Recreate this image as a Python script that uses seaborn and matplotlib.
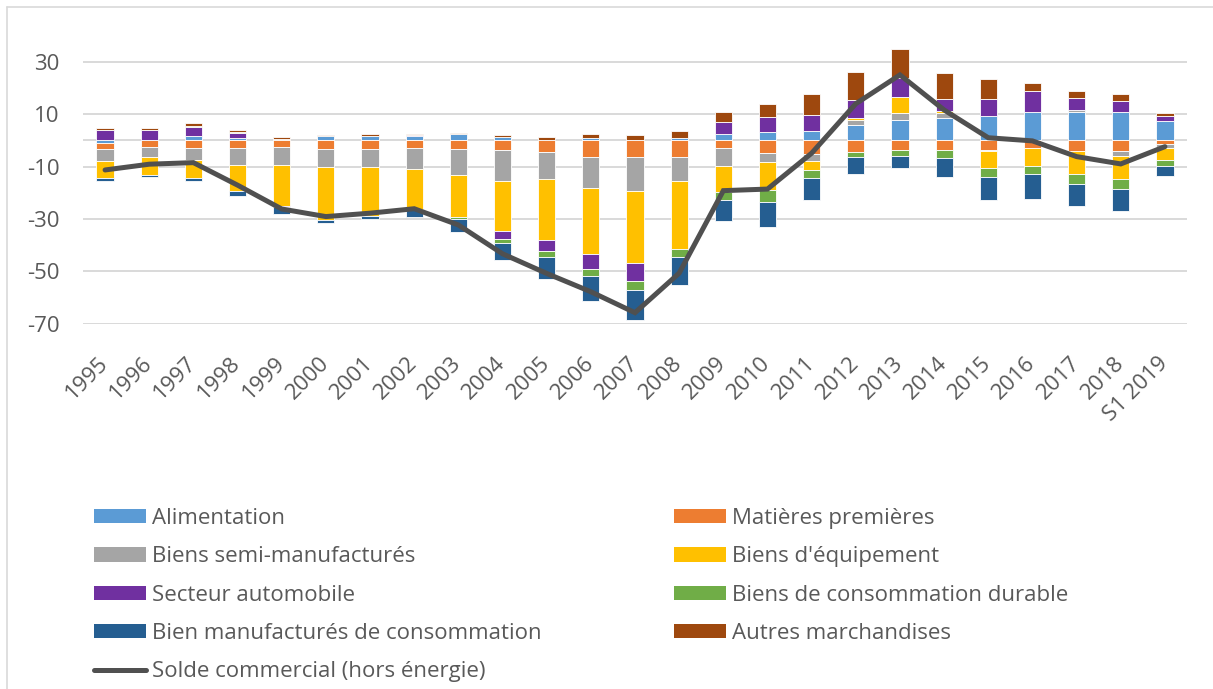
import numpy as np
import matplotlib
matplotlib.use("Agg")
import matplotlib.pyplot as plt
from matplotlib.patches import Patch
from matplotlib.lines import Line2D
import seaborn as sns

years = ["1995", "1996", "1997", "1998", "1999", "2000", "2001", "2002", "2003",
         "2004", "2005", "2006", "2007", "2008", "2009", "2010", "2011", "2012",
         "2013", "2014", "2015", "2016", "2017", "2018", "S1 2019"]

alimentation = [-0.9, 0.3, 1.8, 1.0, 0.5, 1.5, 1.5, 1.8, 2.5, 1.4, 0.3, 0.8, 0.0,
                0.8, 2.4, 3.1, 3.6, 5.9, 7.9, 8.7, 9.3, 10.9, 10.9, 10.7, 7.5]
matieres = [-2.4, -2.4, -2.9, -2.9, -2.4, -3.2, -3.2, -2.9, -3.2, -3.8, -4.3, -6.4, -6.5,
            -6.4, -3.1, -5.0, -5.3, -4.3, -3.6, -3.7, -3.7, -3.0, -4.1, -4.1, -1.4]
semi_manuf = [-4.7, -3.8, -4.5, -6.6, -7.1, -7.0, -7.1, -7.9, -9.9, -11.6, -10.4, -11.7, -12.8,
              -9.3, -6.5, -3.4, -2.7, 1.7, 2.5, 1.7, -0.5, 0.0, 0.6, -1.8, -1.7]
equipement = [-6.4, -6.9, -6.9, -9.9, -15.4, -20.1, -18.4, -15.3, -16.0, -19.3, -23.5, -25.2, -27.4,
              -25.7, -10.2, -10.6, -3.3, 0.8, 6.1, 1.0, -6.5, -6.6, -8.8, -8.8, -4.5]
automobile = [3.8, 3.8, 3.4, 1.8, -0.6, 0.0, 0.2, 0.4, 0.0, -2.8, -4.2, -5.9, -6.9,
              0.0, 4.8, 5.7, 6.2, 6.9, 7.4, 4.5, 6.5, 8.0, 4.8, 4.3, 1.8]
durable = [0.0, 0.0, 0.4, 0.3, 0.0, 0.0, 0.0, -0.3, -0.9, -1.8, -2.3, -2.5, -3.6,
           -3.1, -3.1, -4.5, -2.9, -2.0, -2.3, -2.9, -3.2, -3.3, -3.7, -3.8, -2.2]
manuf_conso = [-1.3, -1.0, -1.1, -1.9, -2.5, -1.3, -1.5, -3.0, -5.0, -6.2, -8.4, -9.8, -11.3,
               -10.9, -7.9, -9.5, -8.5, -6.6, -4.7, -7.3, -8.9, -9.4, -8.4, -8.3, -3.8]
autres = [0.9, 0.6, 0.9, 1.0, 0.8, 0.5, 0.6, 0.4, 0.5, 0.5, 0.9, 1.7, 2.2,
          2.9, 3.8, 5.2, 7.8, 10.8, 10.9, 9.8, 7.6, 3.1, 2.5, 2.7, 1.3]
solde = [-11.3, -9.1, -8.5, -17.1, -26.2, -29.1, -27.8, -26.1, -32.3, -43.3, -50.8, -57.8, -65.8,
         -50.7, -19.2, -18.6, -4.9, 14.0, 25.0, 11.6, 1.0, -0.2, -6.2, -9.0, -2.4]

series_names = ["Alimentation", "Matières premières", "Biens semi-manufacturés",
                "Biens d'équipement", "Secteur automobile", "Biens de consommation durable",
                "Bien manufacturés de consommation", "Autres marchandises"]
line_name = "Solde commercial (hors énergie)"
series_values = [alimentation, matieres, semi_manuf, equipement, automobile,
                 durable, manuf_conso, autres]
colors = ["#5B9BD5", "#ED7D31", "#A5A5A5", "#FFC000", "#7030A0", "#70AD47",
          "#255E91", "#9E480E"]
line_color = "#505050"
text_color = "#595959"
grid_color = "#D9D9D9"

sns.set_theme(style="white")
plt.rcParams["font.family"] = ["Open Sans", "DejaVu Sans"]

W, H = 1213, 689
fig = plt.figure(figsize=(W / 100, H / 100), dpi=100)
ax = fig.add_axes([83 / W, 1 - 323.7 / H, (1187 - 83) / W, (323.7 - 35.6) / H])

pos_base = np.zeros(len(years))
neg_base = np.zeros(len(years))
for name, vals, col in zip(series_names, series_values, colors):
    v = np.array(vals, dtype=float)
    bottoms = np.where(v >= 0, pos_base, neg_base)
    sns.barplot(x=years, y=v, order=years, color=col, saturation=1, width=0.39,
                bottom=bottoms, errorbar=None, edgecolor="white", linewidth=0.6,
                ax=ax, zorder=3)
    pos_base = pos_base + np.where(v > 0, v, 0)
    neg_base = neg_base + np.where(v < 0, v, 0)

sns.lineplot(x=np.arange(len(years)), y=solde, color=line_color, linewidth=3.6,
             ax=ax, zorder=4, solid_joinstyle="miter")

ax.set_xlim(-0.5, len(years) - 0.5)
ax.set_ylim(-70, 40)
yticks = [-70, -50, -30, -10, 10, 30]
ax.set_yticks(yticks)
ax.set_yticklabels([str(t) for t in yticks])
for t in yticks:
    ax.axhline(t, color=grid_color, lw=1.4, zorder=1)
ax.axhline(0, color=grid_color, lw=1.4, zorder=2)
ax.grid(False)
for s in ax.spines.values():
    s.set_visible(False)
ax.set_xlabel("")
ax.set_ylabel("")

ax.set_xticks(np.arange(len(years)))
ax.set_xticklabels(years, rotation=45, ha="right", va="center", rotation_mode="anchor")
ax.tick_params(axis="x", length=0, pad=26, labelsize=16, labelcolor=text_color)
ax.tick_params(axis="y", length=0, pad=17, labelsize=16, labelcolor=text_color)

# legend (two columns as in the original)
h_all = [Patch(facecolor=c, edgecolor="none") for c in colors]
line_handle = Line2D([0], [0], color=line_color, lw=3.6, solid_capstyle="round")
col1_idx = [0, 2, 4, 6]
col2_idx = [1, 3, 5, 7]
common = dict(frameon=False, fontsize=16, handlelength=2.35, handleheight=0.63,
              handletextpad=0.25, labelspacing=0.78, borderpad=0, borderaxespad=0,
              labelcolor=text_color, loc="upper left")
leg1 = fig.legend([h_all[i] for i in col1_idx] + [line_handle],
                  [series_names[i] for i in col1_idx] + [line_name],
                  bbox_to_anchor=(94 / W, 1 - 508 / H), **common)
leg2 = fig.legend([h_all[i] for i in col2_idx],
                  [series_names[i] for i in col2_idx],
                  bbox_to_anchor=(674 / W, 1 - 508 / H), **common)

# chart frame (top and left edges visible)
fig.add_artist(Line2D([7 / W, 1], [1 - 6.5 / H, 1 - 6.5 / H], color=grid_color, lw=1.2))
fig.add_artist(Line2D([7 / W, 7 / W], [0, 1 - 6.5 / H], color=grid_color, lw=1.2))

fig.savefig("out.png", dpi=100, facecolor="white")
